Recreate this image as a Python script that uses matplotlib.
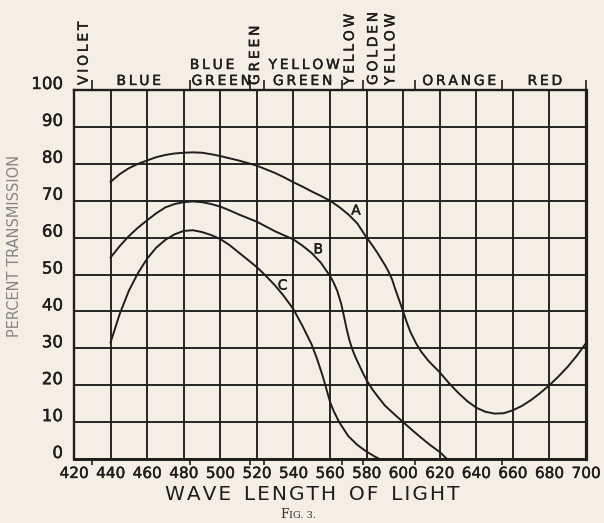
import matplotlib
matplotlib.use("Agg")
import matplotlib.pyplot as plt
import matplotlib.transforms as mtransforms
import matplotlib.patheffects as pe

# ---------------- data ----------------
wl_A = [440, 445, 450, 455, 460, 465, 470, 475, 480, 485, 490, 495, 500, 505, 510, 515, 520, 525,
        530, 535, 540, 545, 550, 555, 560, 565, 570, 575, 580, 583, 586, 590, 592, 594, 596, 598,
        600, 602, 604, 607, 610, 614, 620, 625, 630, 635, 640, 645, 650, 655, 660, 665, 670, 675,
        680, 685, 690, 695, 700]
T_A = [75.1, 77.2, 78.8, 80.0, 80.9, 81.8, 82.4, 82.8, 83.0, 83.1, 83.0, 82.6, 82.1, 81.5, 80.9, 80.2,
       79.5, 78.5, 77.5, 76.3, 75.0, 73.8, 72.5, 71.3, 70.0, 68.3, 66.3, 63.8, 60.0, 58.0, 55.8, 52.6,
       50.8, 48.6, 45.6, 42.8, 40.0, 37.0, 34.4, 31.4, 29.0, 26.5, 23.5, 20.6, 18.0, 15.7, 13.9, 12.8,
       12.3, 12.4, 13.2, 14.4, 16.0, 17.9, 20.0, 22.4, 25.0, 28.0, 31.4]

wl_B = [440, 445, 450, 455, 460, 465, 470, 475, 480, 485, 490, 495, 500, 505, 510, 515, 520, 525,
        530, 535, 540, 545, 550, 555, 560, 562, 564, 566, 567.5, 569, 570.5, 572, 574, 576, 578, 580,
        583, 586, 590, 595, 600, 605, 610, 615, 620, 624]
T_B = [54.6, 57.7, 60.4, 62.7, 64.7, 66.6, 68.2, 69.1, 69.6, 69.8, 69.6, 69.1, 68.4, 67.4, 66.3, 65.3,
       64.3, 63.0, 61.7, 60.6, 59.5, 57.8, 55.8, 53.2, 49.6, 47.8, 45.5, 42.3, 39.0, 35.5, 32.4, 30.0,
       27.5, 25.4, 23.3, 21.4, 19.0, 17.0, 14.5, 12.2, 10.0, 7.8, 5.7, 3.7, 1.9, 0.0]

wl_C = [440, 445, 450, 455, 460, 465, 470, 475, 480, 485, 490, 495, 500, 505, 510, 515, 520, 525,
        530, 535, 540, 545, 550, 553, 556, 558, 560, 562, 565, 570, 575, 580, 584, 587]
T_C = [31.6, 39.3, 45.6, 50.4, 54.3, 57.3, 59.4, 60.9, 61.8, 62.0, 61.5, 60.7, 59.6, 58.0, 56.0, 54.0,
       52.0, 49.6, 47.0, 44.0, 40.6, 36.0, 31.0, 27.0, 22.5, 19.0, 15.5, 13.0, 10.0, 6.2, 3.8, 2.0,
       0.8, 0.0]

curve_labels = ["A", "B", "C"]
label_pos = [(574.2, 67.3), (553.6, 56.8), (534.1, 47.0)]

x_ticks = list(range(420, 701, 20))
y_ticks = list(range(0, 101, 10))

band_edges = [430, 483.5, 516, 524, 566.5, 578, 606.5, 654, 700]
# (text, wavelength centre, baseline offset px above top border)
band_labels_h = [("BLUE", 455.4, 5), ("BLUE", 495.5, 21), ("GREEN", 500.5, 5),
                 ("YELLOW", 545.8, 21), ("GREEN", 545.0, 5), ("ORANGE", 630.6, 5), ("RED", 677.5, 5)]
band_labels_v = [("VIOLET", 425.3), ("GREEN", 519.0), ("YELLOW", 570.8),
                 ("GOLDEN", 583.6), ("YELLOW", 593.0)]

# ---------------- style ----------------
BG = "#f5eee4"
INK = "#1e1e1e"
W, H = 604, 523
bold = [pe.withStroke(linewidth=0.3, foreground=INK)]

fig = plt.figure(figsize=(W / 100, H / 100), dpi=100, facecolor=BG)
L, R, TOP, BOT = 74, 586, 90, 459
ax = fig.add_axes([L / W, 1 - BOT / H, (R - L) / W, (BOT - TOP) / H])
ax.set_facecolor(BG)

ax.set_xlim(420, 700)
ax.set_ylim(0, 100)
ax.set_xticks(x_ticks)
ax.set_yticks(y_ticks)
ax.grid(True, color=INK, linewidth=1.35)
ax.set_axisbelow(True)
for side, sp in ax.spines.items():
    sp.set_color(INK)
    sp.set_linewidth(1.7)
ax.spines["right"].set_linewidth(2.3)
ax.spines["bottom"].set_linewidth(2.1)

ax.tick_params(axis="both", length=0, colors=INK)
ax.tick_params(axis="x", pad=5, labelsize=11)
ax.tick_params(axis="y", pad=8, labelsize=12)
ax.set_xticklabels([str(v) for v in x_ticks])
ax.set_yticklabels([str(v) for v in y_ticks])
off = mtransforms.ScaledTranslation(0, 8 / 100, fig.dpi_scale_trans)
for lab in ax.get_yticklabels():
    lab.set_transform(lab.get_transform() + off)
    lab.set_path_effects(bold)
for lab in ax.get_xticklabels():
    lab.set_path_effects(bold)

# curves
for wl, T in ((wl_A, T_A), (wl_B, T_B), (wl_C, T_C)):
    ax.plot(wl, T, color=INK, linewidth=1.4, solid_joinstyle="round", clip_on=False, zorder=3)
for lab, (xx, yy) in zip(curve_labels, label_pos):
    ax.text(xx, yy, lab, ha="center", va="center", fontsize=10, color=INK, zorder=4,
            path_effects=bold)

# band separators top & bottom
xt = ax.get_xaxis_transform()
hpx = BOT - TOP
ax.vlines(band_edges, 1.0, 1.0 + 10 / hpx, transform=xt, color=INK, linewidth=1.2, clip_on=False)
ax.vlines(band_edges[:-1], -6 / hpx, 0.0, transform=xt, color=INK, linewidth=1.2, clip_on=False)

def spaced(s, sep="\u2009"):
    return sep.join(s)

for txt, xw, base in band_labels_h:
    ax.text(xw, 1.0 + base / hpx, spaced(txt), transform=xt, ha="center", va="baseline",
            fontsize=10, color=INK, path_effects=bold)
for txt, xw in band_labels_v:
    ax.text(xw, 1.0 + 5 / hpx, spaced(txt), transform=xt, ha="center", va="bottom",
            rotation=90, fontsize=10, color=INK, path_effects=bold)

# axis titles
fig.text(15 / W, 1 - 246 / H, "PERCENT TRANSMISSION", rotation=90, ha="center", va="center",
         fontsize=10.5, color="#858585")
xlab = "  ".join(spaced(w, "\u200a") for w in "WAVE LENGTH OF LIGHT".split(" "))
fig.text(312 / W, 1 - 494 / H, xlab, ha="center", va="center",
         fontsize=14.5, color=INK)
fig.text(289 / W, 1 - 518 / H, "F", ha="right", va="baseline", fontsize=9,
         family="DejaVu Serif", color="#333333")
fig.text(289 / W, 1 - 518 / H, "IG. 3.", ha="left", va="baseline", fontsize=7,
         family="DejaVu Serif", color="#333333")

fig.savefig("out.png", dpi=100, facecolor=BG)
